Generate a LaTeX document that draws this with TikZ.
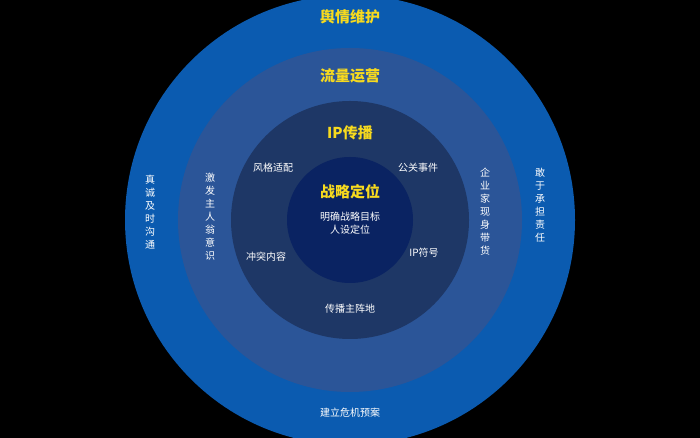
\documentclass[tikz,border=0pt]{standalone}
\usepackage{fontspec}
\newfontfamily\cjk{Noto Sans CJK SC}
\definecolor{ringA}{HTML}{0B5BB0}
\definecolor{ringB}{HTML}{2B5598}
\definecolor{ringC}{HTML}{1E3766}
\definecolor{ringD}{HTML}{0A2362}
\definecolor{titleY}{HTML}{F7DA1E}
\tikzset{
  ring/.style={circle, inner sep=0pt},
  title/.style={text=titleY, font=\cjk\fontsize{15}{17}\selectfont\bfseries},
  label/.style={text=white, font=\cjk\fontsize{10}{13}\selectfont, align=center},
}
\begin{document}
\begin{tikzpicture}[x=1pt,y=1pt]
\fill[black] (0,0) rectangle (700,438);
\useasboundingbox (0,0) rectangle (700,438);
\begin{scope}
\clip (0,0) rectangle (700,438);
\node[ring, fill=ringA, minimum size=450] (outer) at (350,218) {};
\node[ring, fill=ringB, minimum size=344] (second) at (350,218) {};
\node[ring, fill=ringC, minimum size=238] (third) at (350,218) {};
\node[ring, fill=ringD, minimum size=126] (inner) at (350,218) {};
\end{scope}
% titles
\node[title] (t1) at (350,421) {舆情维护};
\node[title] (t2) at (350,362) {流量运营};
\node[title] (t3) at (350,305) {IP传播};
\node[title] (t4) at (350,246) {战略定位};
% inner labels
\node[label] (goal) at (350,215) {明确战略目标\\人设定位};
\node[label] (style) at (273,270) {风格适配};
\node[label] (pr) at (418,270) {公关事件};
\node[label] (conflict) at (266,181) {冲突内容};
\node[label] (ipsym) at (424,185) {IP符号};
\node[label] (base) at (350,129) {传播主阵地};
\node[label] (plan) at (350,25) {建立危机预案};
% vertical labels
\node[label] (honest) at (150,226) {真\\诚\\及\\时\\沟\\通};
\node[label] (owner) at (210,221) {激\\发\\主\\人\\翁\\意\\识};
\node[label] (boss) at (485,226) {企\\业\\家\\现\\身\\带\\货};
\node[label] (resp) at (540,233) {敢\\于\\承\\担\\责\\任};
\end{tikzpicture}
\end{document}
